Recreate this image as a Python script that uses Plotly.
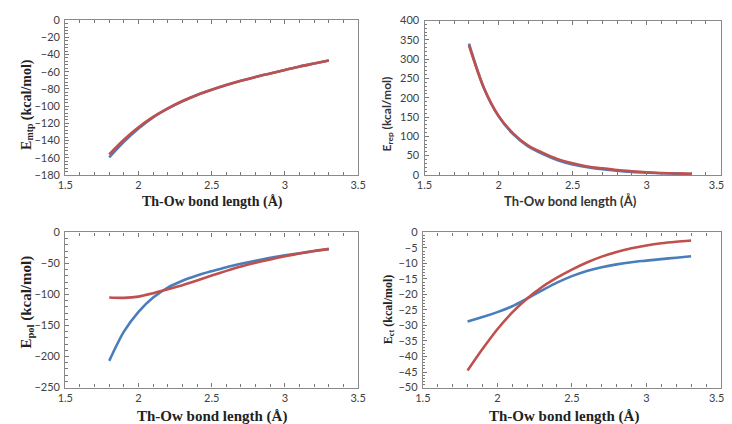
import plotly.graph_objects as go

# ---------------- data ----------------
bond_length = [1.8, 1.9, 2.0, 2.1, 2.2, 2.3, 2.4, 2.5, 2.6, 2.7, 2.8, 2.9, 3.0, 3.1, 3.2, 3.3]

emtp_blue = [-159.5, -141.5, -126, -113, -103, -94.5, -87, -81, -75.5, -70.5, -66, -62, -58, -54, -50.5, -47]
emtp_red = [-156, -139, -124.5, -112.5, -102.5, -94, -87, -81, -75.5, -70.5, -66, -62, -58, -54, -50.5, -47]

erep_blue = [340, 226, 152, 105, 74, 54, 38, 27, 20, 15, 11, 8, 6, 4.5, 3.5, 2.5]
erep_red = [336, 226, 153, 107, 76, 57, 41, 30, 22, 17, 12.5, 9.5, 7, 5, 4, 3]

epol_blue = [-207, -160, -128, -105, -89, -78, -69.5, -62.5, -56, -50.5, -45.5, -41, -37, -33.5, -30, -27]
epol_red = [-105, -105.5, -103.5, -98, -91.5, -85, -77.5, -69.5, -62, -55, -49, -43.5, -38.5, -34, -30, -26.5]

ect_blue = [-28.7, -27.3, -25.7, -23.8, -21.3, -18.7, -16.2, -14.1, -12.4, -11.2, -10.3, -9.6, -9.1, -8.6, -8.15, -7.7]
ect_red = [-44.5, -37.6, -31.2, -25.8, -21.3, -17.6, -14.6, -12.0, -9.7, -7.8, -6.3, -5.1, -4.2, -3.5, -3.0, -2.6]

x_ticks = [1.5, 2.0, 2.5, 3.0, 3.5]
x_tick_labels = ["1.5", "2", "2.5", "3", "3.5"]
# right-hand panels: last label nudged left (as in the original) so it stays on the page
x_tick_labels_right = ["1.5", "2", "2.5", "3", "3.5\u00a0\u00a0\u00a0"]

BLUE = "#4A7EBB"
RED = "#C0504D"
W, H = 732, 424

def px(x):
    return x / W

def py(y):
    return 1 - y / H

panels = [
    dict(x=[px(50.7), px(351.7)], y=[py(165), py(5.3)], data=(emtp_blue, emtp_red), yr=[-180, 0], dt=20,
         tt=x_tick_labels),
    dict(x=[px(420), px(724.5)], y=[py(165), py(5.7)], data=(erep_blue, erep_red), yr=[0, 400], dt=50,
         tt=x_tick_labels_right),
    dict(x=[px(50.7), px(351.7)], y=[py(384.3), py(224.3)], data=(epol_blue, epol_red), yr=[-250, 0], dt=50,
         tt=x_tick_labels),
    dict(x=[px(418.3), px(724.7)], y=[py(384.3), py(224.3)], data=(ect_blue, ect_red), yr=[-50, 0], dt=5,
         tt=x_tick_labels_right),
]

fig = go.Figure()
layout = {}
for i, p in enumerate(panels, start=1):
    xa = "x" if i == 1 else f"x{i}"
    ya = "y" if i == 1 else f"y{i}"
    blue, red = p["data"]
    fig.add_trace(go.Scatter(x=bond_length, y=blue, mode="lines", xaxis=xa, yaxis=ya,
                             line=dict(color=BLUE, width=2.6, shape="spline", smoothing=0.8),
                             showlegend=False))
    fig.add_trace(go.Scatter(x=bond_length, y=red, mode="lines", xaxis=xa, yaxis=ya,
                             line=dict(color=RED, width=2.6, shape="spline", smoothing=0.8),
                             showlegend=False))
    tickfont = dict(family="Lato", size=11, color="#404040")
    layout["xaxis" if i == 1 else f"xaxis{i}"] = dict(
        domain=p["x"], anchor=ya, range=[1.5, 3.5], tickvals=x_ticks, ticktext=p["tt"],
        ticks="inside", ticklen=4, tickcolor="#777", tickwidth=1,
        minor=dict(dtick=0.1, ticks="inside", ticklen=3, tickcolor="#777", showgrid=False),
        showline=True, linecolor="#8a8a8a", linewidth=1.2, mirror="ticks",
        showgrid=False, zeroline=False, tickfont=tickfont, fixedrange=True,
        ticklabeloverflow="allow",
    )
    layout["yaxis" if i == 1 else f"yaxis{i}"] = dict(
        domain=p["y"], anchor=xa, range=p["yr"], dtick=p["dt"],
        ticks="inside", ticklen=4, tickcolor="#777", tickwidth=1,
        minor=dict(dtick=p["dt"] / 5, ticks="inside", ticklen=2.5, tickcolor="#777", showgrid=False),
        showline=True, linecolor="#8a8a8a", linewidth=1.2, mirror=True,
        showgrid=False, zeroline=False, tickfont=tickfont, fixedrange=True,
        ticklabeloverflow="allow", ticklabelstandoff=2,
    )

serif = "Liberation Serif"
sans = "Lato"
xtitle = "Th-Ow bond length (Å)"
annotations = [
    dict(text=xtitle, x=px(201.7), y=py(192.7), font=dict(family=serif, size=14, color="#222")),
    dict(text=xtitle, x=px(570), y=py(192.3), font=dict(family=sans, size=13, color="#333")),
    dict(text=xtitle, x=px(201.7), y=py(413.7), font=dict(family=serif, size=15, color="#222")),
    dict(text=xtitle, x=px(563), y=py(413.7), font=dict(family=serif, size=15, color="#222")),
    dict(text="E<sub>mtp</sub> (kcal/mol)", x=px(11), y=py(92), textangle=-90,
         font=dict(family=serif, size=14, color="#222")),
    dict(text="E<sub>rep</sub> (kcal/mol)", x=px(382), y=py(102), textangle=-90,
         font=dict(family=sans, size=12, color="#333")),
    dict(text="E<sub>pol</sub> (kcal/mol)", x=px(11), y=py(296), textangle=-90,
         font=dict(family=serif, size=15, color="#222")),
    dict(text="E<sub>ct</sub> (kcal/mol)", x=px(383), y=py(304), textangle=-90,
         font=dict(family=serif, size=12, color="#222")),
]
for a in annotations:
    a.update(xref="paper", yref="paper", showarrow=False, xanchor="center", yanchor="middle")
    a["text"] = "<b>" + a["text"] + "</b>"

fig.update_layout(
    width=W, height=H, margin=dict(l=0, r=0, t=0, b=0),
    paper_bgcolor="white", plot_bgcolor="white",
    annotations=annotations, **layout,
)

fig.write_html("out.html")
